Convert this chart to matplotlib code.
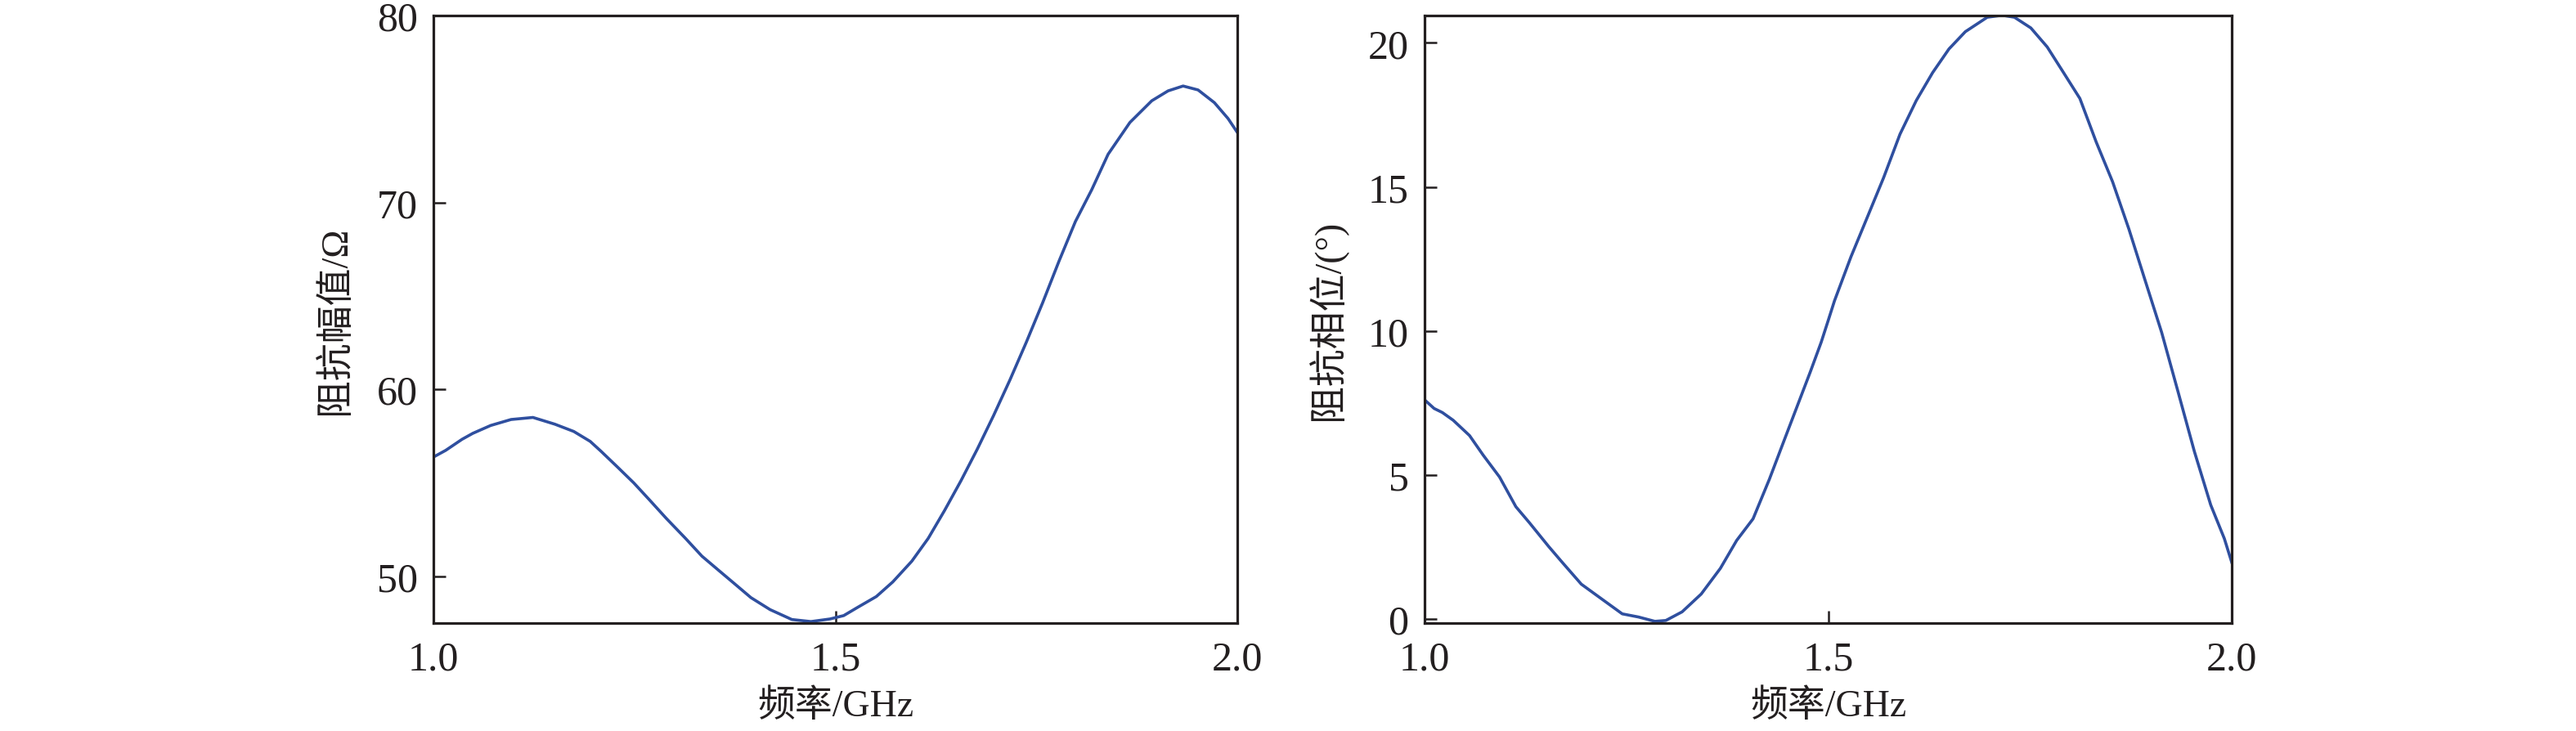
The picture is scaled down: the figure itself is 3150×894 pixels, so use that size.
import matplotlib
matplotlib.use("Agg")
import matplotlib.pyplot as plt

# Left: impedance magnitude
freq_mag = [1.0, 1.0153, 1.0356, 1.049, 1.0712, 1.0966, 1.1238, 1.151, 1.1746, 1.195,
            1.2085, 1.2289, 1.2492, 1.2696, 1.2899, 1.3136, 1.334, 1.3543, 1.3747, 1.395,
            1.4188, 1.4459, 1.4696, 1.4934, 1.5104, 1.5273, 1.551, 1.5714, 1.5951, 1.6155,
            1.6358, 1.6562, 1.6765, 1.6968, 1.7172, 1.7375, 1.7579, 1.7782, 1.7986, 1.8189,
            1.8393, 1.8664, 1.8936, 1.9139, 1.9326, 1.9512, 1.9715, 1.9885, 2.0]
mag = [56.38, 56.74, 57.33, 57.65, 58.07, 58.39, 58.50, 58.14, 57.75, 57.22,
       56.69, 55.85, 55.00, 54.05, 53.09, 52.03, 51.08, 50.34, 49.60, 48.86,
       48.22, 47.69, 47.58, 47.72, 47.90, 48.33, 48.92, 49.70, 50.81, 52.03,
       53.52, 55.11, 56.80, 58.60, 60.51, 62.52, 64.64, 66.86, 68.98, 70.68,
       72.58, 74.28, 75.44, 75.97, 76.23, 76.02, 75.34, 74.49, 73.75]

# Right: impedance phase
freq_ph = [1.0, 1.0118, 1.022, 1.0355, 1.0557, 1.0726, 1.0929, 1.1131, 1.13, 1.1537,
           1.1705, 1.1942, 1.2178, 1.2449, 1.2651, 1.2854, 1.2989, 1.3191, 1.3428, 1.3665,
           1.3867, 1.407, 1.4273, 1.4441, 1.461, 1.4779, 1.4914, 1.5005, 1.5079, 1.5282,
           1.5484, 1.5687, 1.589, 1.6092, 1.6295, 1.6497, 1.67, 1.6971, 1.7156, 1.7308,
           1.7511, 1.7714, 1.7916, 1.8119, 1.8321, 1.8524, 1.8727, 1.8929, 1.9132, 1.9335,
           1.9537, 1.974, 1.9909, 2.0]
phase = [7.61, 7.31, 7.17, 6.90, 6.37, 5.69, 4.93, 3.90, 3.34, 2.52,
         1.97, 1.21, 0.73, 0.18, 0.07, -0.08, -0.05, 0.25, 0.87, 1.76,
         2.73, 3.48, 4.86, 6.10, 7.34, 8.58, 9.61, 10.4, 11.05, 12.57,
         13.94, 15.32, 16.83, 18.0, 18.97, 19.79, 20.39, 20.89, 20.96, 20.89,
         20.52, 19.86, 18.97, 18.07, 16.56, 15.18, 13.53, 11.74, 9.95, 7.89,
         5.82, 3.96, 2.79, 1.97]

xticks = [1.0, 1.5, 2.0]
xticklabels = ["1.0", "1.5", "2.0"]
mag_ticks = [50, 60, 70, 80]
ph_ticks = [0, 5, 10, 15, 20]

line_color = "#2f4f9f"
ink = "#231f20"
latin_cjk = ["Liberation Serif", "Noto Sans CJK SC"]

fig = plt.figure(figsize=(31.5, 8.95), dpi=100)
ax1 = fig.add_axes([530 / 3150, 1 - 763 / 895, 983 / 3150, 743 / 895])
ax2 = fig.add_axes([1742 / 3150, 1 - 763 / 895, 987 / 3150, 743 / 895])

def style(ax, yticks, ylim, ylabel, labelx):
    ax.set_xlim(1.0, 2.0)
    ax.set_ylim(*ylim)
    ax.set_xticks(xticks)
    ax.set_xticklabels(xticklabels)
    ax.set_yticks(yticks)
    for s in ax.spines.values():
        s.set_linewidth(2.3)
        s.set_color(ink)
    ax.tick_params(axis="both", direction="in", length=11, width=1.8, colors=ink,
                   labelsize=36, top=False, right=False)
    ax.tick_params(axis="y", pad=14)
    ax.tick_params(axis="x", pad=15)
    for lab in ax.get_xticklabels() + ax.get_yticklabels():
        lab.set_fontfamily("Liberation Serif")
        lab.set_color(ink)
    ax.set_xlabel("频率/GHz", family=latin_cjk, fontsize=33, color=ink, labelpad=9)
    ax.set_ylabel(ylabel, family=latin_cjk, fontsize=33, color=ink)
    ax.yaxis.set_label_coords(labelx, 0.5)

ax1.plot(freq_mag, mag, color=line_color, lw=2.6)
style(ax1, mag_ticks, (47.5, 80), "阻抗幅值/Ω", -0.1)

ax2.plot(freq_ph, phase, color=line_color, lw=2.6)
style(ax2, ph_ticks, (-0.14, 20.95), "阻抗相位/(°)", -0.096)

fig.savefig("out.png", dpi=100, facecolor="white")
